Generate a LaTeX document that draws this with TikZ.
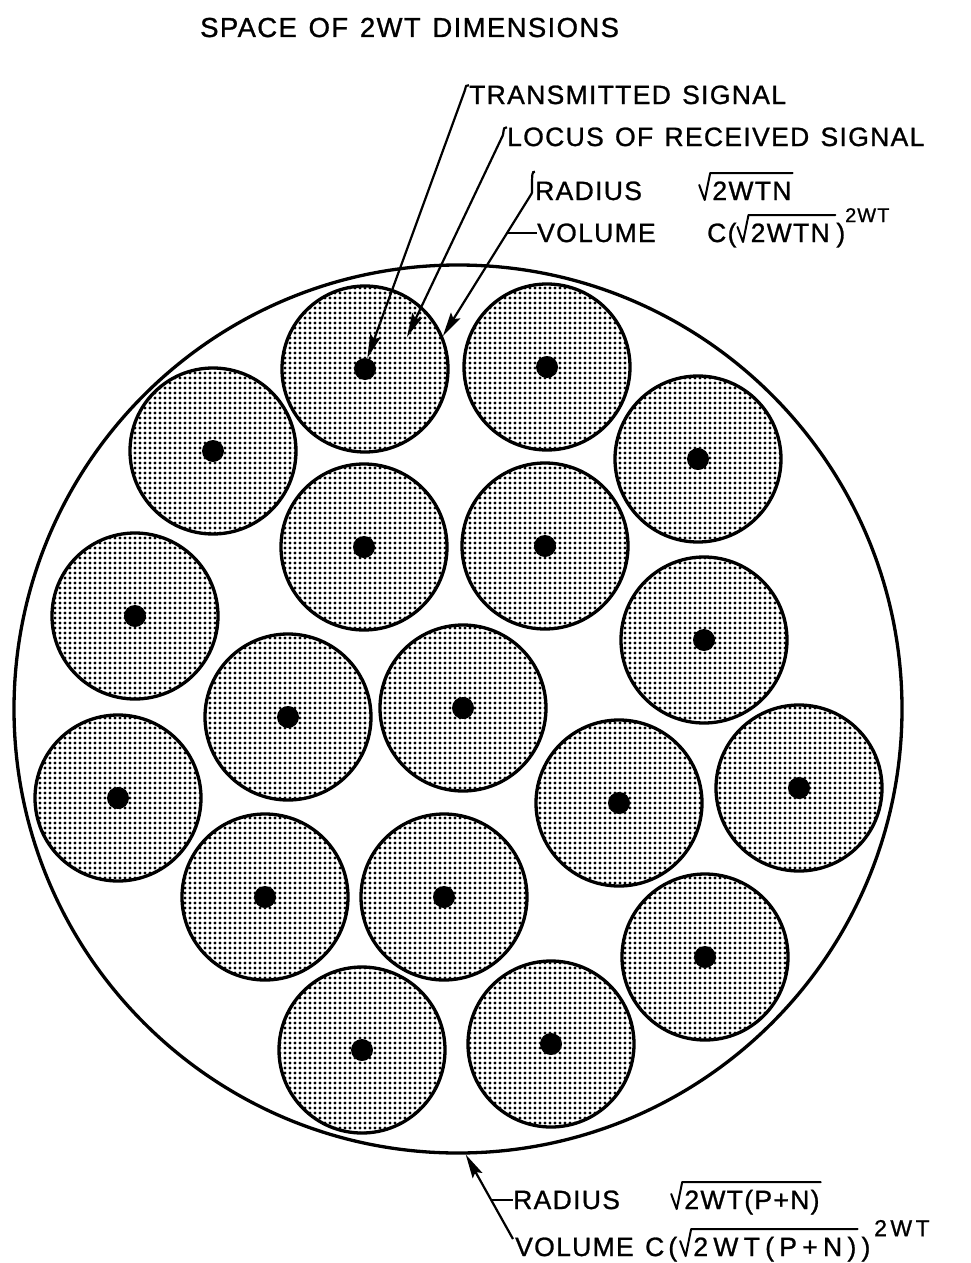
\documentclass[tikz,border=0pt]{standalone}
\usepackage{fontspec}
\usetikzlibrary{arrows.meta,patterns,calc}
\newfontfamily\labfont[LetterSpace=5,WordSpace=1.3,FakeBold=1]{Liberation Sans}
\pgfdeclarepatternformonly{fdots}{\pgfqpoint{-1.8pt}{-1.8pt}}{\pgfqpoint{1.8pt}{1.8pt}}{\pgfqpoint{5pt}{5pt}}{\pgfpathcircle{\pgfqpoint{0pt}{0pt}}{1.55pt}\pgfusepath{fill}}
\newcommand{\myrt}[1]{\tikz[baseline=0pt,x=1pt,y=1pt]{\node[inner sep=0pt,anchor=base west] (rtbody) at (13,0) {#1};
  \draw[line width=2pt,line join=round,line cap=round] (0,15) -- (5.5,0) -- (11,27) -- ($(rtbody.base east)+(1,27)$);}}
\newcommand{\mysup}[2]{\raisebox{0.75em}{\fontsize{#1}{24}\selectfont #2}}
\begin{document}
\begin{tikzpicture}[x=1pt,y=-1pt,
  lab/.style={font=\labfont\fontsize{26.5}{30}\selectfont, inner sep=0pt, anchor=base west},
  sig/.style={circle, draw, line width=3.3pt, pattern=fdots, minimum size=166pt, inner sep=0pt},
  dotn/.style={circle, fill=black, minimum size=22pt, inner sep=0pt},
  bigc/.style={circle, draw, line width=3.3pt, minimum size=888pt, inner sep=0pt},
  lead/.style={line width=2.2pt, -{Stealth[length=24pt,width=11pt,inset=4pt]}},
  plain/.style={line width=2.2pt}]
\useasboundingbox (0,0) rectangle (971,1263);
\fill[white] (0,0) rectangle (971,1263);

\node[bigc] (big) at (458,709) {};

\foreach \n/\x/\y in {1/365/369, 2/547/367, 3/213/451, 4/698/459, 5/364/547, 6/545/546,
  7/135/616, 8/704/640, 9/288/717, 10/463/708, 11/118/798, 12/619/803, 13/799/788,
  14/265/897, 15/444/897, 16/705/957, 17/362/1050, 18/551/1044} {
  \node[sig] (c\n) at (\x,\y) {};
  \node[dotn] (d\n) at (\x,\y) {};
}

\node[lab, font=\labfont\fontsize{27.5}{32}\selectfont] (title) at (200,37) {SPACE OF 2WT DIMENSIONS};

\node[lab] (ts) at (469,104) {TRANSMITTED SIGNAL};
\node[lab] (lr) at (507,146) {LOCUS OF RECEIVED SIGNAL};
\node[lab] (rn) at (535,200) {\makebox[163pt][l]{RADIUS}\myrt{2WTN}};
\node[lab] (vn) at (537,242) {\makebox[170pt][l]{VOLUME}C(\myrt{2WTN\,})\mysup{20}{2WT}};

\node[lab] (rb) at (513,1209) {\makebox[157pt][l]{RADIUS}\myrt{2WT(P+N)}};
\node[lab] (vb) at (515,1256) {\makebox[124pt][l]{VOLUME}\hspace{6pt}C\hspace{4pt}(\hspace{2pt}\myrt{\addfontfeatures{LetterSpace=20}2WT(P+N)}\hspace{3pt})\mysup{23}{\addfontfeatures{LetterSpace=15}\,2WT}};

\coordinate (tsA) at (465,90);
\coordinate (lrA) at (503,135);
\coordinate (rnA) at (532,193);
\coordinate (lrT) at (407,337);
\coordinate (bA) at (513,1239);

\draw[plain] (ts.north west) .. controls +(-3,0) .. (tsA);
\draw[lead] (tsA) -- (d1.78);
\draw[plain] (lr.north west) .. controls +(-3,0) .. (lrA);
\draw[lead] (lrA) -- (lrT);
\draw[plain] (rn.north west) .. controls +(-3,0) .. (rnA);
\draw[lead] (rnA) -- (c1.23);
\coordinate (vX) at ($(rnA)!0.28!(c1.23)$);
\draw[plain] (vX) -- (vn.west |- vX);

\draw[lead] (bA) -- (big.-89.5);
\coordinate (rX) at ($(bA)!0.46!(big.-89.5)$);
\draw[plain] (rX) -- (rb.west |- rX);
\end{tikzpicture}
\end{document}
